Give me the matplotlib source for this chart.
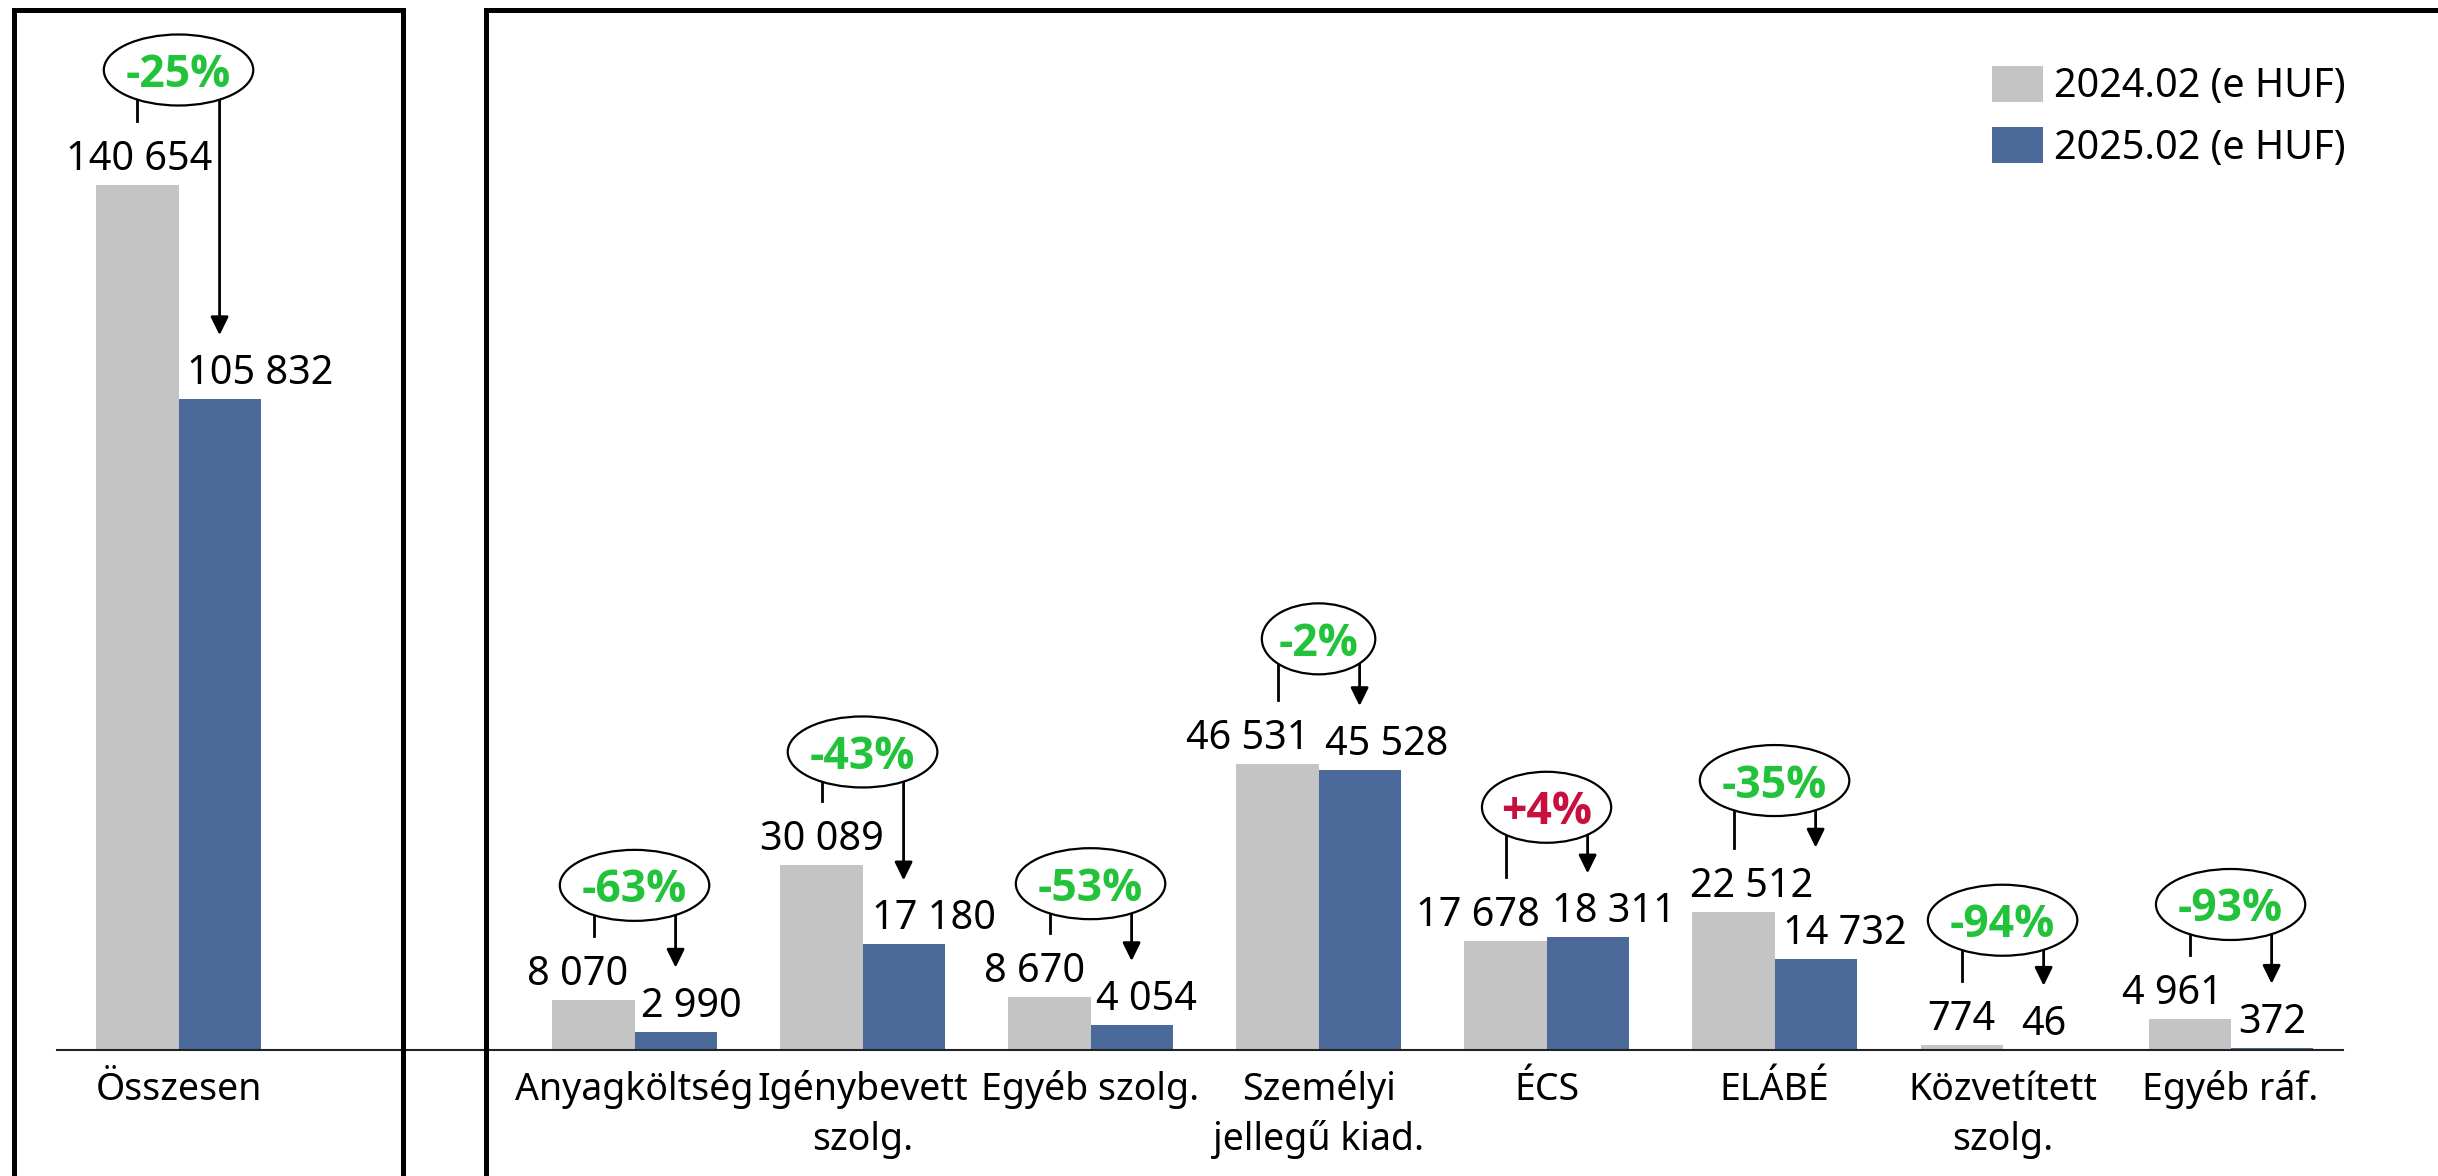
import matplotlib
matplotlib.use("Agg")
import matplotlib.pyplot as plt
from matplotlib.patches import Ellipse, FancyArrowPatch
from matplotlib.lines import Line2D
from matplotlib.transforms import IdentityTransform
import numpy as np

plt.rcParams['font.family'] = ['Noto Sans', 'DejaVu Sans']

# ---------------- data ----------------
categories = ["Összesen", "Anyagköltség", "Igénybevett\nszolg.", "Egyéb szolg.",
              "Személyi\njellegű kiad.", "ÉCS", "ELÁBÉ", "Közvetített\nszolg.", "Egyéb ráf."]
values_2024 = [140654, 8070, 30089, 8670, 46531, 17678, 22512, 774, 4961]
values_2025 = [105832, 2990, 17180, 4054, 45528, 18311, 14732, 46, 372]
series_labels = ["2024.02 (e HUF)", "2025.02 (e HUF)"]

# ---------------- layout ----------------
positions = [0, 2, 3, 4, 5, 6, 7, 8, 9]
label_dx_2024 = [2, -16, 0, -15, -30, -28, 18, 0, -17]   # px nudges of value labels
label_dx_2025 = [41, 16, 30, 15, 27, 26, 29, 0, 0]
bubble_lift = [51, 51, 49, 49, 61, 70, 67, 61, 51]      # px from stem end to bubble centre
arrow_to_gray = [False, False, False, False, False, False, True, False, False]

GRAY = '#C4C4C4'
BLUE = '#4B6A99'
GREEN = '#22C33B'
RED = '#C8103F'

W, H = 2438, 1176
fig = plt.figure(figsize=(W / 100, H / 100), dpi=100)
ax = fig.add_axes([57 / W, 126 / H, 2286 / W, 1050 / H])

bw = 0.36
pos = np.array(positions, dtype=float)
ax.bar(pos - bw / 2, values_2024, width=bw, color=GRAY, label=series_labels[0], zorder=2)
ax.bar(pos + bw / 2, values_2025, width=bw, color=BLUE, label=series_labels[1], zorder=2)

ax.set_xlim(-0.533, 9.493)
ax.set_ylim(0, 140654 * 1050 / 865)
for s in ['left', 'top', 'right']:
    ax.spines[s].set_visible(False)
ax.spines['bottom'].set_color('#222222')
ax.spines['bottom'].set_linewidth(1.5)
ax.set_xticks([])
ax.set_yticks([])

def fmt(v):
    return f"{v:,}".replace(",", " ")

VAL_FS = 28.5
for i, p in enumerate(positions):
    ax.annotate(fmt(values_2024[i]), xy=(p - bw / 2, values_2024[i]), xycoords='data',
                xytext=(label_dx_2024[i], 15), textcoords='offset pixels',
                ha='center', va='baseline', fontsize=VAL_FS, color='black')
    ax.annotate(fmt(values_2025[i]), xy=(p + bw / 2, values_2025[i]), xycoords='data',
                xytext=(label_dx_2025[i], 15), textcoords='offset pixels',
                ha='center', va='baseline', fontsize=VAL_FS, color='black')
    for j, line in enumerate(categories[i].split("\n")):
        ax.annotate(line, xy=(p, 0), xycoords=('data', 'axes fraction'),
                    xytext=(0, -50 - 50 * j), textcoords='offset pixels',
                    ha='center', va='baseline', fontsize=27,
                    color='black', annotation_clip=False)

leg = ax.legend(loc='upper left', bbox_to_anchor=(1992, H - 66), bbox_transform=IdentityTransform(),
                frameon=False, fontsize=28.5, handlelength=1.29, handleheight=1.01,
                handletextpad=0.28, labelspacing=0.5, borderpad=0, borderaxespad=0)

# ---------------- bubbles & arrows ----------------
fig.canvas.draw()
r = fig.canvas.get_renderer()
ID = IdentityTransform()
for i, p in enumerate(positions):
    xg, yg = ax.transData.transform((p - bw / 2, values_2024[i]))
    xb, yb = ax.transData.transform((p + bw / 2, values_2025[i]))
    xc, _ = ax.transData.transform((p, 0))
    y_left_end = yg + 64
    y_arrow_end = (yg if arrow_to_gray[i] else yb) + 64
    yc = y_left_end + bubble_lift[i]

    change = values_2025[i] / values_2024[i] - 1
    txt = f"{int(round(change * 100)):+d}%"
    col = RED if change > 0 else GREEN
    t = fig.text(xc, yc - 17, txt, transform=ID, ha='center', va='baseline',
                 fontsize=32, fontweight='bold', family=['Open Sans', 'DejaVu Sans'],
                 color=col, zorder=6)
    tw = t.get_window_extent(renderer=r).width
    ell = Ellipse((xc, yc), width=tw * 1.42, height=71, transform=ID,
                  facecolor='white', edgecolor='black', linewidth=1.6, zorder=5)
    fig.add_artist(ell)
    fig.add_artist(Line2D([xg, xg], [yc, y_left_end], transform=ID, color='black',
                          linewidth=2, zorder=4))
    arr = FancyArrowPatch((xb, yc), (xb, y_arrow_end), transform=ID,
                          arrowstyle='-|>,head_length=0.55,head_width=0.27',
                          mutation_scale=20, linewidth=2, color='black',
                          shrinkA=0, shrinkB=0, zorder=4)
    fig.add_artist(arr)

# ---------------- frames ----------------
fig.add_artist(Line2D([14, 14, 403, 403], [-10, H - 9.5, H - 9.5, -10], transform=ID,
                      color='black', linewidth=3.6, solid_joinstyle='miter', zorder=7))
fig.add_artist(Line2D([485.5, 485.5, W + 20], [-10, H - 9.5, H - 9.5], transform=ID,
                      color='black', linewidth=3.6, solid_joinstyle='miter', zorder=7))

fig.savefig('out.png', dpi=100)
